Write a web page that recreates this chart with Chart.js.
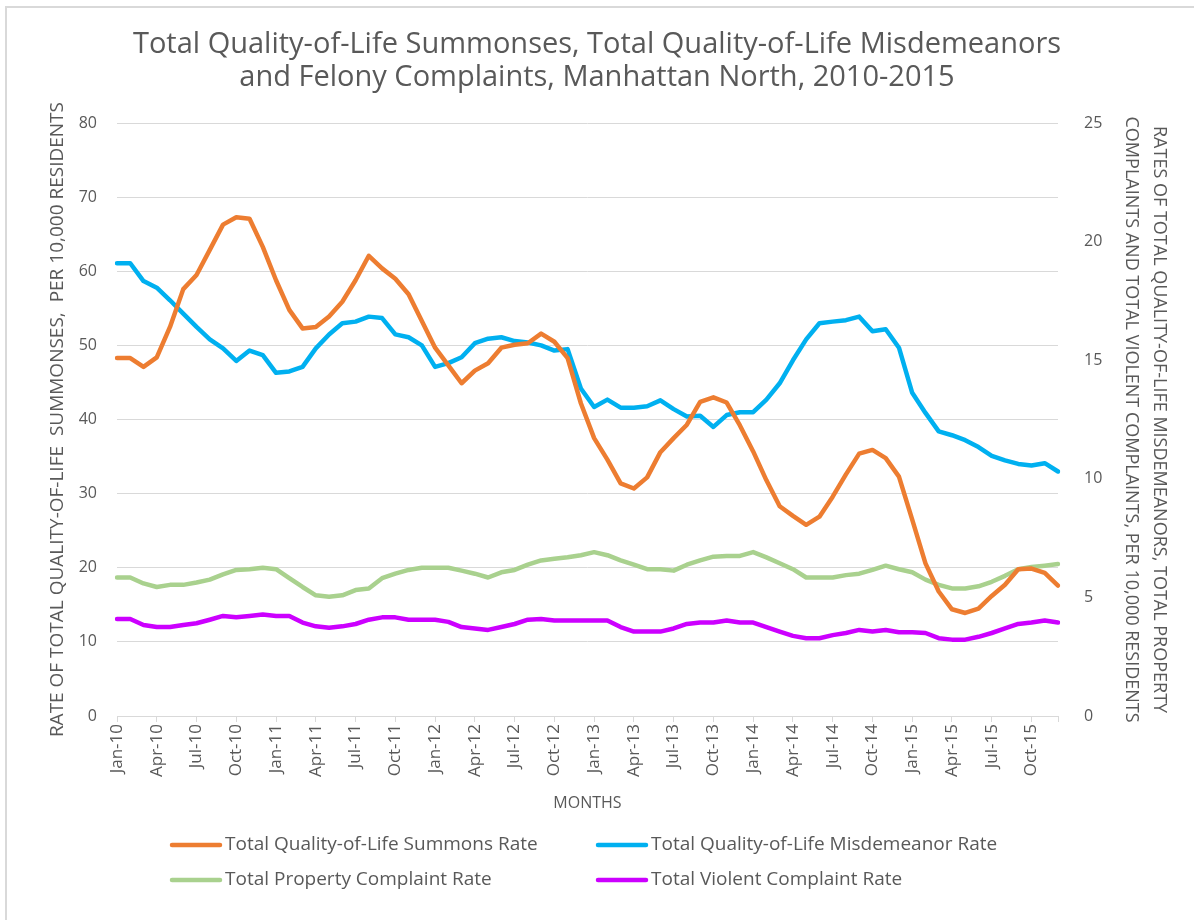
<!DOCTYPE html>
<html>
<head>
<meta charset="utf-8">
<title>Manhattan North Quality-of-Life Rates</title>
<script src="https://cdn.jsdelivr.net/npm/chart.js@4/dist/chart.umd.min.js"></script>
<style>
  html, body { margin: 0; padding: 0; background: #fff; overflow: hidden; }
  #wrap { position: relative; width: 1194px; height: 920px; }
  #frame {
    position: absolute; left: 5px; top: 6px; right: -20px; bottom: -20px;
    border: 2px solid #d9d9d9; pointer-events: none;
  }
</style>
</head>
<body>
<div id="wrap">
  <canvas id="myChart" width="1194" height="920"></canvas>
  <div id="frame"></div>
</div>
<script>
// month labels Jan-10 ... Dec-15
const months = ["Jan", "Feb", "Mar", "Apr", "May", "Jun", "Jul", "Aug", "Sep", "Oct", "Nov", "Dec"];
const years = ["10", "11", "12", "13", "14", "15"];
const labels = [];
years.forEach((y) => months.forEach((m) => labels.push(m + "-" + y)));

// summons rate (left axis)
const summonsRate = [
  48.3, 48.3, 47.1, 48.4, 52.5, 57.6, 59.5, 62.9, 66.3, 67.3, 67.1, 63.3,
  58.8, 54.8, 52.3, 52.5, 53.9, 55.9, 58.8, 62.1, 60.4, 59.0, 56.9, 53.3,
  49.7, 47.3, 44.9, 46.6, 47.6, 49.7, 50.1, 50.3, 51.6, 50.5, 48.3, 42.2,
  37.5, 34.6, 31.4, 30.7, 32.2, 35.6, 37.5, 39.3, 42.4, 43.0, 42.3, 39.2,
  35.7, 31.8, 28.3, 27.0, 25.8, 26.9, 29.6, 32.6, 35.4, 35.9, 34.8, 32.3,
  26.5, 20.6, 16.8, 14.4, 13.9, 14.5, 16.2, 17.7, 19.8, 19.9, 19.3, 17.6,
];

// misdemeanor rate (right axis)
const misdemeanorRate = [
  19.09, 19.09, 18.34, 18.06, 17.53, 16.97, 16.41, 15.88, 15.5, 14.97, 15.41, 15.22,
  14.47, 14.53, 14.72, 15.5, 16.09, 16.56, 16.63, 16.84, 16.78, 16.09, 15.97, 15.63,
  14.72, 14.88, 15.13, 15.72, 15.91, 15.97, 15.81, 15.75, 15.63, 15.41, 15.47, 13.81,
  13.03, 13.34, 13.0, 13.0, 13.06, 13.31, 12.94, 12.63, 12.66, 12.19, 12.69, 12.81,
  12.81, 13.34, 14.03, 15.0, 15.88, 16.56, 16.63, 16.69, 16.84, 16.22, 16.31, 15.53,
  13.63, 12.78, 12.0, 11.84, 11.63, 11.34, 10.97, 10.78, 10.63, 10.56, 10.66, 10.31,
];

// property complaint rate (right axis)
const propertyRate = [
  5.84, 5.84, 5.59, 5.44, 5.53, 5.53, 5.63, 5.75, 5.97, 6.16, 6.19, 6.25,
  6.19, 5.81, 5.44, 5.09, 5.03, 5.09, 5.31, 5.38, 5.81, 6.0, 6.16, 6.25,
  6.25, 6.25, 6.13, 6.0, 5.84, 6.06, 6.16, 6.38, 6.56, 6.63, 6.69, 6.78,
  6.91, 6.78, 6.56, 6.38, 6.19, 6.19, 6.13, 6.38, 6.56, 6.72, 6.75, 6.75,
  6.91, 6.69, 6.44, 6.19, 5.84, 5.84, 5.84, 5.94, 6.0, 6.16, 6.34, 6.19,
  6.06, 5.75, 5.53, 5.38, 5.38, 5.47, 5.66, 5.91, 6.19, 6.28, 6.34, 6.41,
];

// violent complaint rate (right axis)
const violentRate = [
  4.09, 4.09, 3.84, 3.75, 3.75, 3.84, 3.91, 4.06, 4.22, 4.16, 4.22, 4.28,
  4.22, 4.22, 3.94, 3.78, 3.72, 3.78, 3.88, 4.06, 4.16, 4.16, 4.06, 4.06,
  4.06, 3.97, 3.75, 3.69, 3.63, 3.75, 3.88, 4.06, 4.09, 4.03, 4.03, 4.03,
  4.03, 4.03, 3.75, 3.56, 3.56, 3.56, 3.69, 3.88, 3.94, 3.94, 4.03, 3.94,
  3.94, 3.75, 3.56, 3.38, 3.28, 3.28, 3.41, 3.5, 3.63, 3.56, 3.63, 3.53,
  3.53, 3.5, 3.28, 3.22, 3.22, 3.34, 3.5, 3.69, 3.88, 3.94, 4.03, 3.94,
];

const textColor = "#595959";
const gridColor = "#d9d9d9";

// legend drawn as a 2 x 2 grid under the axis
const legendGrid = {
  id: "legendGrid",
  afterDraw(chart) {
    const c = chart.ctx;
    const cols = [172, 598];
    const rows = [845, 880];
    c.save();
    c.font = "19px 'Open Sans'";
    c.textBaseline = "middle";
    c.fillStyle = textColor;
    chart.data.datasets.forEach((ds, i) => {
      const x = cols[i % 2];
      const y = rows[Math.floor(i / 2)];
      c.strokeStyle = ds.borderColor;
      c.lineWidth = 4.5;
      c.lineCap = "round";
      c.beginPath();
      c.moveTo(x, y);
      c.lineTo(x + 48, y);
      c.stroke();
      c.fillText(ds.label, x + 53, y);
    });
    c.restore();
  },
};

function line(label, data, color, axis) {
  return {
    label,
    data,
    borderColor: color,
    backgroundColor: color,
    borderWidth: 4.5,
    pointRadius: 0,
    tension: 0,
    borderJoinStyle: "round",
    borderCapStyle: "round",
    yAxisID: axis,
  };
}

const ctx = document.getElementById("myChart").getContext("2d");

const myChart = new Chart(ctx, {
  type: "line",
  data: {
    labels,
    datasets: [
      line("Total Quality-of-Life Summons Rate", summonsRate, "#ED7D31", "y"),
      line("Total Quality-of-Life Misdemeanor Rate", misdemeanorRate, "#00B0F0", "y1"),
      line("Total Property Complaint Rate", propertyRate, "#A9D18E", "y1"),
      line("Total Violent Complaint Rate", violentRate, "#CC00FF", "y1"),
    ],
  },
  options: {
    responsive: false,
    animation: false,
    layout: { padding: { top: 0, left: 0, right: 0, bottom: 100 } },
    plugins: {
      legend: { display: false },
      tooltip: { enabled: false },
      title: {
        display: true,
        text: [
          "Total Quality-of-Life Summonses, Total Quality-of-Life Misdemeanors",
          "and Felony Complaints, Manhattan North, 2010-2015",
        ],
        color: textColor,
        font: { family: "'Open Sans'", size: 29, weight: "normal", lineHeight: 1.14 },
        padding: { top: 28, bottom: 29 },
      },
    },
    scales: {
      x: {
        offset: false,
        afterFit: (scale) => { scale.height = 104; },
        border: { display: true, color: gridColor, width: 1 },
        grid: {
          drawOnChartArea: false,
          drawTicks: true,
          tickLength: 6,
          // tick marks every quarter, plus the closing one
          color: (c) => (c.index % 3 === 0 || c.index === labels.length - 1 ? gridColor : "transparent"),
        },
        ticks: {
          autoSkip: false,
          maxRotation: 90,
          minRotation: 90,
          padding: 2,
          color: textColor,
          font: { family: "'Open Sans'", size: 17 },
          callback: function (value, index) {
            return index % 3 === 0 ? this.getLabelForValue(value) : "";
          },
        },
        title: {
          display: true,
          text: "MONTHS",
          color: textColor,
          font: { family: "'Open Sans'", size: 16 },
          padding: { top: 0, bottom: 7 },
        },
      },
      y: {
        position: "left",
        min: 0,
        max: 80,
        afterFit: (scale) => { scale.width = 117; },
        border: { display: false },
        grid: { color: gridColor, lineWidth: 1, drawTicks: false },
        ticks: {
          stepSize: 10,
          padding: 20,
          color: textColor,
          font: { family: "'Open Sans'", size: 16 },
        },
        title: {
          display: true,
          text: "RATE OF TOTAL QUALITY-OF-LIFE  SUMMONSES,  PER 10,000 RESIDENTS",
          color: textColor,
          font: { family: "'Liberation Sans Narrow', 'Open Sans'", size: 19 },
          padding: { top: 46, bottom: 0 },
        },
      },
      y1: {
        position: "right",
        min: 0,
        max: 25,
        afterFit: (scale) => { scale.width = 136; },
        border: { display: false },
        grid: { drawOnChartArea: false, drawTicks: false },
        ticks: {
          stepSize: 5,
          padding: 26,
          color: textColor,
          font: { family: "'Open Sans'", size: 16 },
        },
        title: {
          display: true,
          text: [
            "RATES OF TOTAL QUALITY-OF-LIFE MISDEMEANORS, TOTAL PROPERTY",
            "COMPLAINTS AND TOTAL VIOLENT COMPLAINTS, PER 10,000 RESIDENTS",
          ],
          color: textColor,
          font: { family: "'Liberation Sans Narrow', 'Open Sans'", size: 18, lineHeight: 1.6 },
          padding: { top: 20, bottom: 0 },
        },
      },
    },
  },
  plugins: [legendGrid],
});
</script>
</body>
</html>
